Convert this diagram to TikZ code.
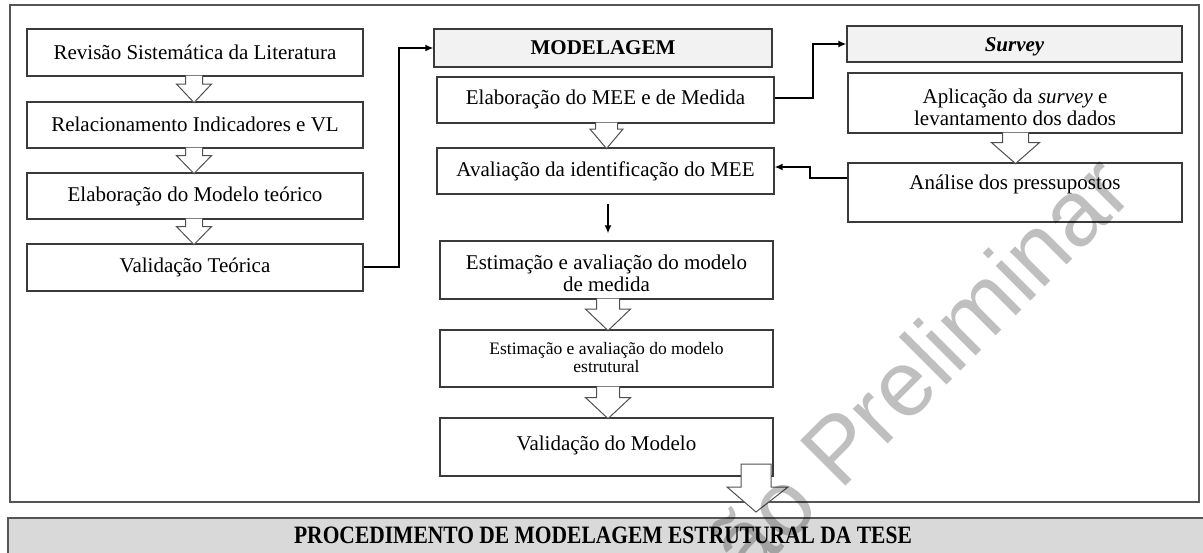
\documentclass[tikz,border=0pt]{standalone}
\usepackage{fontspec}
\usepackage{graphicx}
\setmainfont{Liberation Serif}
\newfontfamily\wmfont{Liberation Sans}
\usetikzlibrary{arrows.meta,fit}
\definecolor{linegray}{HTML}{3A3A3A}
\definecolor{framegray}{HTML}{555555}
\definecolor{arrowgray}{HTML}{505050}
\definecolor{headfill}{HTML}{F2F2F2}
\definecolor{barfill}{HTML}{D9D9D9}
\newcommand\hollowarrow[6]{%
  \filldraw[hollow]
    ([xshift=#2pt-#3pt,yshift=1pt]#1.south) --
    ([xshift=#2pt-#3pt,yshift=-#4pt]#1.south) --
    ([xshift=#2pt-#5pt,yshift=-#4pt]#1.south) --
    ([xshift=#2pt,yshift=-#6pt]#1.south) --
    ([xshift=#2pt+#5pt,yshift=-#4pt]#1.south) --
    ([xshift=#2pt+#3pt,yshift=-#4pt]#1.south) --
    ([xshift=#2pt+#3pt,yshift=1pt]#1.south);}
\begin{document}
\begin{tikzpicture}[x=1pt,y=-1pt,
  box/.style={draw=linegray, line width=1.2pt, fill=white, inner sep=0pt},
  hbox/.style={box, fill=headfill},
  txt/.style={anchor=base, inner sep=0pt, font=\fontsize{21}{24}\selectfont},
  stxt/.style={anchor=base, inner sep=0pt, font=\fontsize{17.5}{20}\selectfont},
  conn/.style={draw=black, line width=2pt, -{Latex[length=8pt,width=7pt]}},
  hollow/.style={draw=arrowgray, line width=1pt, fill=white, line join=miter}
]
\useasboundingbox (0,0) rectangle (1203,553);
\clip (0,0) rectangle (1203,553);

% outer frame and bottom bar
\node[draw=framegray, line width=1.4pt, fit={(10,5) (1199,502)}, inner sep=0pt] (frame) {};
\node[draw=framegray, line width=1.4pt, fill=barfill, fit={(8,518) (1220,570)}, inner sep=0pt] (bar) {};
\node[anchor=base, inner sep=0pt, font=\fontsize{25}{28}\selectfont\bfseries] (bartxt) at (603,543)
  {\scalebox{0.86}[1]{PROCEDIMENTO DE MODELAGEM ESTRUTURAL DA TESE}};

% left column
\node[box, fit={(27,29) (363,76)}] (b1) {};
\node[box, fit={(27,102) (363,148)}] (b2) {};
\node[box, fit={(27,173) (363,219)}] (b3) {};
\node[box, fit={(27,244) (363,291)}] (b4) {};
\node[txt] (t1) at (195,60) {Revisão Sistemática da Literatura};
\node[txt] (t2) at (195,132) {Relacionamento Indicadores e VL};
\node[txt] (t3) at (195,202) {Elaboração do Modelo teórico};
\node[txt] (t4) at (195,273) {Validação Teórica};

% middle column
\node[hbox, fit={(434,29) (772,67)}] (mod) {};
\node[txt, font=\fontsize{21}{24}\selectfont\bfseries] (tmod) at (603,55) {MODELAGEM};
\node[box, fit={(437,77) (774,123)}] (elab) {};
\node[txt] (telab) at (605.5,105) {Elaboração do MEE e de Medida};
\node[box, fit={(437,148) (774,194)}] (aval) {};
\node[txt] (taval) at (605.5,177) {Avaliação da identificação do MEE};
\node[box, fit={(440,241) (773,299)}] (e1) {};
\node[txt] (te1a) at (606.5,270) {Estimação e avaliação do modelo};
\node[txt] (te1b) at (606.5,292) {de medida};
\node[box, fit={(440,330) (773,387)}] (e2) {};
\node[stxt] (te2a) at (606.5,355) {Estimação e avaliação do modelo};
\node[stxt] (te2b) at (606.5,373) {estrutural};
\node[box, fit={(440,418) (773,476)}] (valid) {};
\node[txt] (tvalid) at (606.5,450) {Validação do Modelo};

% right column
\node[hbox, fit={(847,26) (1182,62)}] (surv) {};
\node[txt, font=\fontsize{21}{24}\selectfont\bfseries\itshape] (tsurv) at (1014.5,52) {Survey};
\node[box, fit={(848,73) (1182,133)}] (apl) {};
\node[txt] (tapla) at (1015,104) {Aplicação da \textit{survey} e};
\node[txt] (taplb) at (1015,126) {levantamento dos dados};
\node[box, fit={(848,163) (1182,222)}] (an) {};
\node[txt] (tan) at (1015,190) {Análise dos pressupostos};

% connectors
\draw[conn] (b4.east) -- ++(35,0) |- (mod.west);
\draw[conn] ([yshift=2pt]elab.east) -- ++(38,0) |- (surv.west);
\draw[conn] ([yshift=14.5pt]an.west) -- ++(-37,0) |- ([yshift=4pt]aval.east);
\draw[conn] ([xshift=2.5pt,yshift=-9pt]aval.south) -- ([xshift=1.5pt,yshift=7pt]e1.north);

% hollow block arrows
\hollowarrow{b1}{-1}{8.5}{7.5}{17.5}{26}
\hollowarrow{b2}{-1}{8.5}{7}{17.5}{25}
\hollowarrow{b3}{-1}{8.5}{7}{17.5}{25}
\hollowarrow{elab}{1}{11}{5.5}{16.5}{25}
\hollowarrow{e1}{1.5}{11.5}{9.5}{22.5}{31}
\hollowarrow{e2}{1.5}{11.5}{10}{22.5}{31}
\hollowarrow{apl}{0.5}{13}{9}{24}{30}
\filldraw[hollow] (741,464) -- (771,464) -- (771,487) -- (788,487) -- (756,512)
  -- (727,487) -- (741,487) -- cycle;

% watermark
\node[rotate=45, anchor=base west, inner sep=0pt, text=black, text opacity=0.25,
  font=\wmfont\fontsize{93}{93}\selectfont] (wm) at (617,715) {Versão Preliminar};
\end{tikzpicture}
\end{document}
